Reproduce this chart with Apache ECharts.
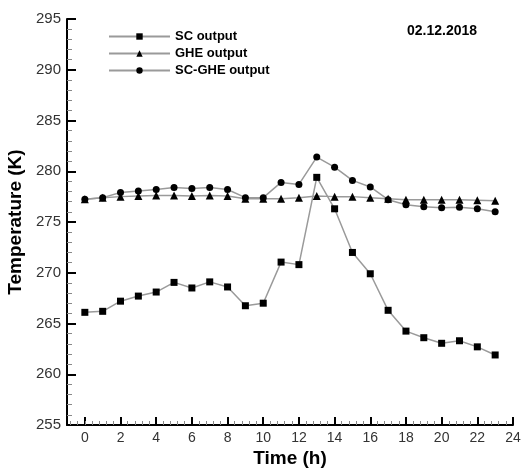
<!DOCTYPE html>
<html>
<head>
<meta charset="utf-8">
<script src="https://cdn.jsdelivr.net/npm/echarts@6/dist/echarts.min.js"></script>
<style>
  html, body { margin: 0; padding: 0; background: #fff; }
  #main { width: 522px; height: 469px; }
</style>
</head>
<body>
<div id="main"></div>
<script>
// 时间 (h)
const hours = [0, 1, 2, 3, 4, 5, 6, 7, 8, 9, 10, 11, 12, 13, 14, 15, 16, 17, 18, 19, 20, 21, 22, 23];

// 三条曲线 (K)
const scOutput = [266.1, 266.2, 267.2, 267.7, 268.1, 269.05, 268.5, 269.1, 268.6, 266.75, 267.0, 271.05,
  270.8, 279.4, 276.3, 272.0, 269.9, 266.3, 264.25, 263.6, 263.05, 263.3, 262.7, 261.9];
const gheOutput = [277.25, 277.4, 277.5, 277.55, 277.6, 277.6, 277.55, 277.6, 277.55, 277.3, 277.3, 277.3,
  277.4, 277.55, 277.5, 277.5, 277.4, 277.3, 277.2, 277.2, 277.2, 277.2, 277.15, 277.1];
const scGheOutput = [277.25, 277.4, 277.9, 278.05, 278.2, 278.4, 278.3, 278.4, 278.2, 277.4, 277.4, 278.9,
  278.7, 281.4, 280.4, 279.1, 278.45, 277.2, 276.7, 276.5, 276.4, 276.45, 276.3, 276.0];

// 坐标范围: x 轴从 -1 开始, 刻度从 0 开始
const xMin = -1;
const xMax = 24;

// 绘图区 (像素)
const plotLeft = 67;
const plotRight = 9;
const plotTop = 19;
const plotBottom = 44;
const plotWidth = 522 - plotLeft - plotRight;
const pxPerHour = plotWidth / (xMax - xMin);

const lineColor = "#9a9a9a";
const fontFamily = "Liberation Sans";
const axisLineStyle = { color: "#000", width: 2 };
const toPairs = (arr) => arr.map((v, i) => [hours[i], v]);

const makeSeries = (name, data, symbol, size) => ({
  name,
  type: "line",
  data: toPairs(data),
  symbol,
  symbolSize: size,
  showSymbol: true,
  lineStyle: { color: lineColor, width: 1.5 },
  itemStyle: { color: "#000" },
  emphasis: { disabled: true },
});

const hiddenY = (gridIndex) => ({ type: "value", gridIndex, show: false, min: 0, max: 1 });

// 网格 (不让 v6 自动收缩)
const makeGrid = (left, right) => ({
  left,
  right,
  top: plotTop,
  bottom: plotBottom,
  containLabel: false,
  outerBoundsMode: "none",
});

const chart = echarts.init(document.getElementById("main"));
chart.setOption({
  animation: false,
  backgroundColor: "#fff",
  title: {
    text: "02.12.2018",
    left: 402,
    top: 19,
    textStyle: { fontFamily, fontSize: 14, fontWeight: "bold", color: "#000" },
  },
  legend: {
    orient: "vertical",
    left: 103,
    top: 25,
    itemWidth: 61,
    itemHeight: 8,
    itemGap: 4,
    textStyle: { fontFamily, fontSize: 13, fontWeight: "bold", color: "#000" },
    data: ["SC output", "GHE output", "SC-GHE output"],
  },
  grid: [
    // 主绘图区
    makeGrid(plotLeft, plotRight),
    // 从 0 开始的刻度
    makeGrid(plotLeft + pxPerHour * (0 - xMin), plotRight),
    // 0 左边的小刻度
    makeGrid(plotLeft + pxPerHour * (-0.8 - xMin), 522 - (plotLeft + pxPerHour * (0 - xMin))),
  ],
  xAxis: [
    {
      type: "value",
      gridIndex: 0,
      min: xMin,
      max: xMax,
      name: "Time (h)",
      nameLocation: "middle",
      nameGap: 24,
      nameTextStyle: { fontFamily, fontSize: 19, fontWeight: "bold", color: "#000" },
      axisLine: { show: true, onZero: false, lineStyle: axisLineStyle },
      axisTick: { show: false },
      axisLabel: { show: false },
      splitLine: { show: false },
    },
    {
      type: "value",
      gridIndex: 1,
      min: 0,
      max: xMax,
      interval: 2,
      axisLine: { show: false, onZero: false },
      axisTick: { show: true, inside: true, length: 8, lineStyle: { color: "#000", width: 2 } },
      minorTick: { show: true, splitNumber: 5, length: 4, lineStyle: { color: "#888", width: 1 } },
      axisLabel: { margin: 6, fontFamily, fontSize: 14, color: "#333" },
      splitLine: { show: false },
    },
    {
      type: "value",
      gridIndex: 2,
      min: -0.8,
      max: 0,
      interval: 0.4,
      axisLine: { show: false, onZero: false },
      axisTick: { show: true, inside: true, length: 4, lineStyle: { color: "#888", width: 1 } },
      axisLabel: { show: false },
      splitLine: { show: false },
    },
  ],
  yAxis: [
    {
      type: "value",
      gridIndex: 0,
      min: 255,
      max: 295,
      interval: 5,
      name: "Temperature (K)",
      nameLocation: "middle",
      nameGap: 28,
      nameTextStyle: { fontFamily, fontSize: 19, fontWeight: "bold", color: "#000" },
      axisLine: { show: true, onZero: false, lineStyle: axisLineStyle },
      axisTick: { show: true, inside: true, length: 9, lineStyle: { color: "#000", width: 2 } },
      minorTick: { show: true, splitNumber: 5, length: 5, lineStyle: { color: "#888", width: 1 } },
      axisLabel: { margin: 6, fontFamily, fontSize: 15, color: "#333" },
      splitLine: { show: false },
    },
    hiddenY(1),
    hiddenY(2),
  ],
  series: [
    makeSeries("SC output", scOutput, "rect", 7),
    makeSeries("GHE output", gheOutput, "triangle", 8),
    makeSeries("SC-GHE output", scGheOutput, "circle", 7),
  ],
});
</script>
</body>
</html>
